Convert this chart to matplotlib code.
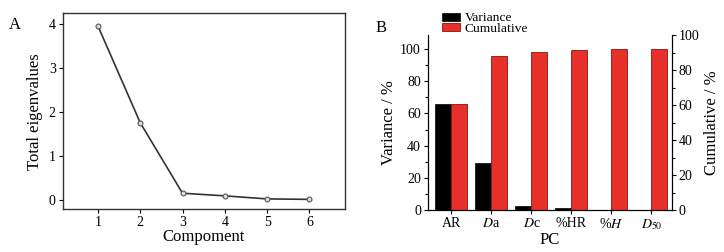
import matplotlib
matplotlib.use("Agg")
import matplotlib.pyplot as plt
import numpy as np
from matplotlib.ticker import MultipleLocator

plt.rcParams['font.family'] = ['Liberation Serif', 'DejaVu Serif']
plt.rcParams['mathtext.fontset'] = 'stix'

# Panel A data
components = [1, 2, 3, 4, 5, 6]
eigenvalues = [3.97, 1.76, 0.15, 0.09, 0.02, 0.01]

# Panel B data
pc_labels = ["AR", r"$\it{D}$a", r"$\it{D}$c", "%HR", r"%$\it{H}$", r"$\it{D}_{50}$"]
variance = [66.0, 29.5, 2.5, 1.5, 0.3, 0.1]
cumulative = [66.0, 95.5, 98.2, 99.7, 100.0, 100.0]

fig = plt.figure(figsize=(7.24, 2.52), dpi=100)

# ---- Panel A ----
axA = fig.add_axes([0.0866, 0.1706, 0.39, 0.776])
axA.plot(components, eigenvalues, color='#333333', lw=1.2, marker='o', ms=3.5,
         mfc='#dddddd', mec='#555555', mew=0.8)
axA.set_xlim(0.17, 6.84)
axA.set_ylim(-0.21, 4.25)
axA.set_xticks(components)
axA.set_yticks([0, 1, 2, 3, 4])
axA.tick_params(direction='out', labelsize=10, length=3, width=0.8, top=False, right=False, pad=2)
axA.set_xlabel("Compoment", fontsize=12, labelpad=0)
axA.set_ylabel("Total eigenvalues", fontsize=12, labelpad=4)
for s in axA.spines.values():
    s.set_linewidth(1.0)
    s.set_color('#333333')
fig.text(0.012, 0.885, "A", fontsize=12)

# ---- Panel B ----
axB = fig.add_axes([0.591, 0.1667, 0.337, 0.694])
x = np.arange(len(pc_labels))
w = 0.4
axB.bar(x - w/2, variance, width=w, color='black', edgecolor='black', lw=0.5, label='Variance')
axB.bar(x + w/2, cumulative, width=w, color='#e8302a', edgecolor='#8a1010', lw=0.6, label='Cumulative')
axB.set_xlim(-0.59, 5.51)
axB.set_ylim(0, 108.7)
axB.set_xticks(x)
axB.set_xticklabels(pc_labels)
axB.yaxis.set_major_locator(MultipleLocator(20))
axB.yaxis.set_minor_locator(MultipleLocator(10))
axB.tick_params(which='both', direction='out', labelsize=10, width=0.8, pad=2)
axB.tick_params(which='major', length=3)
axB.tick_params(which='minor', length=2)
axB.spines['top'].set_visible(False)
axB.set_xlabel("PC", fontsize=12, labelpad=0)
axB.set_ylabel("Variance / %", fontsize=12, labelpad=2)

axR = axB.twinx()
axR.set_ylim(0, 100)
axR.yaxis.set_major_locator(MultipleLocator(20))
axR.yaxis.set_minor_locator(MultipleLocator(10))
axR.tick_params(which='both', direction='out', labelsize=10, width=0.8, pad=2)
axR.tick_params(which='major', length=3)
axR.tick_params(which='minor', length=2)
axR.spines['top'].set_visible(False)
axR.set_ylabel("Cumulative / %", fontsize=12, labelpad=3)

axB.legend(loc='lower left', bbox_to_anchor=(0.058, 1.0), frameon=False, fontsize=9.7,
           handlelength=1.3, handleheight=0.5, labelspacing=-0.1, borderpad=0,
           borderaxespad=0, handletextpad=0.4)
fig.text(0.518, 0.875, "B", fontsize=12)

fig.savefig("out.png", dpi=100)
